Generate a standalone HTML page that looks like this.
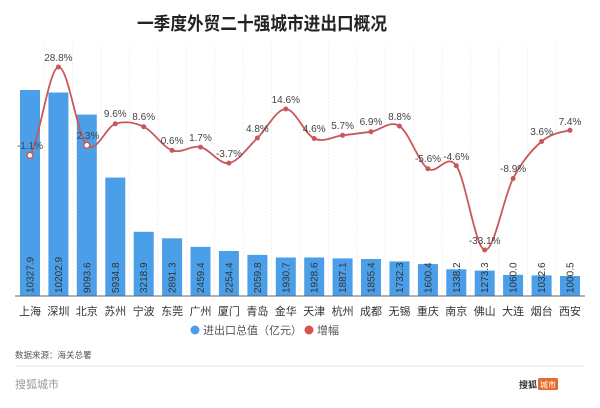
<!DOCTYPE html>
<html><head><meta charset="utf-8"><style>
html,body{margin:0;padding:0;background:#fff;}
svg{display:block;font-family:"Liberation Sans","Noto Sans CJK SC",sans-serif;}
</style></head><body>
<svg width="600" height="408" viewBox="0 0 600 408" xmlns="http://www.w3.org/2000/svg">
<rect width="600" height="408" fill="#fff"/>
<text x="262" y="30" text-anchor="middle" font-size="18" font-weight="bold" fill="#222" textLength="250" lengthAdjust="spacingAndGlyphs">一季度外贸二十强城市进出口概况</text>
<g stroke="#e4e4e4" stroke-width="0.7" stroke-dasharray="1.5,2">
<line x1="44.2" y1="45" x2="44.2" y2="296"/><line x1="72.6" y1="45" x2="72.6" y2="296"/><line x1="101" y1="45" x2="101" y2="296"/><line x1="129.5" y1="45" x2="129.5" y2="296"/><line x1="157.9" y1="45" x2="157.9" y2="296"/><line x1="186.3" y1="45" x2="186.3" y2="296"/><line x1="214.7" y1="45" x2="214.7" y2="296"/><line x1="243.1" y1="45" x2="243.1" y2="296"/><line x1="271.6" y1="45" x2="271.6" y2="296"/><line x1="300" y1="45" x2="300" y2="296"/><line x1="328.4" y1="45" x2="328.4" y2="296"/><line x1="356.8" y1="45" x2="356.8" y2="296"/><line x1="385.2" y1="45" x2="385.2" y2="296"/><line x1="413.7" y1="45" x2="413.7" y2="296"/><line x1="442.1" y1="45" x2="442.1" y2="296"/><line x1="470.5" y1="45" x2="470.5" y2="296"/><line x1="498.9" y1="45" x2="498.9" y2="296"/><line x1="527.3" y1="45" x2="527.3" y2="296"/><line x1="555.8" y1="45" x2="555.8" y2="296"/>
</g>
<g fill="#4a9fe8">
<rect x="20" y="90" width="20" height="206"/>
<rect x="48.4" y="92.5" width="20" height="203.5"/>
<rect x="76.8" y="114.6" width="20" height="181.4"/>
<rect x="105.3" y="177.6" width="20" height="118.4"/>
<rect x="133.7" y="231.8" width="20" height="64.2"/>
<rect x="162.1" y="238.3" width="20" height="57.7"/>
<rect x="190.5" y="246.9" width="20" height="49.1"/>
<rect x="218.9" y="251" width="20" height="45"/>
<rect x="247.4" y="254.9" width="20" height="41.1"/>
<rect x="275.8" y="257.5" width="20" height="38.5"/>
<rect x="304.2" y="257.5" width="20" height="38.5"/>
<rect x="332.6" y="258.4" width="20" height="37.6"/>
<rect x="361" y="259" width="20" height="37"/>
<rect x="389.5" y="261.4" width="20" height="34.6"/>
<rect x="417.9" y="264.1" width="20" height="31.9"/>
<rect x="446.3" y="269.3" width="20" height="26.7"/>
<rect x="474.7" y="270.6" width="20" height="25.4"/>
<rect x="503.1" y="274.9" width="20" height="21.1"/>
<rect x="531.6" y="275.4" width="20" height="20.6"/>
<rect x="560" y="276" width="20" height="20"/>
</g>
<line x1="15" y1="296" x2="585" y2="296" stroke="#666" stroke-width="1"/>
<g font-size="10" fill="#333">
<text transform="translate(33.5,293) rotate(-90)">10327.9</text>
<text transform="translate(61.9,293) rotate(-90)">10202.9</text>
<text transform="translate(90.3,293) rotate(-90)">9093.6</text>
<text transform="translate(118.8,293) rotate(-90)">5934.8</text>
<text transform="translate(147.2,293) rotate(-90)">3218.9</text>
<text transform="translate(175.6,293) rotate(-90)">2891.3</text>
<text transform="translate(204,293) rotate(-90)">2459.4</text>
<text transform="translate(232.4,293) rotate(-90)">2254.4</text>
<text transform="translate(260.9,293) rotate(-90)">2059.8</text>
<text transform="translate(289.3,293) rotate(-90)">1930.7</text>
<text transform="translate(317.7,293) rotate(-90)">1928.6</text>
<text transform="translate(346.1,293) rotate(-90)">1887.1</text>
<text transform="translate(374.5,293) rotate(-90)">1855.4</text>
<text transform="translate(403,293) rotate(-90)">1732.3</text>
<text transform="translate(431.4,293) rotate(-90)">1600.4</text>
<text transform="translate(459.8,293) rotate(-90)">1338.2</text>
<text transform="translate(488.2,293) rotate(-90)">1273.3</text>
<text transform="translate(516.6,293) rotate(-90)">1060.0</text>
<text transform="translate(545.1,293) rotate(-90)">1032.6</text>
<text transform="translate(573.5,293) rotate(-90)">1000.5</text>
</g>
<path fill="none" stroke="#c9585a" stroke-width="1.8" d="M30,155.4 C39.5,140.7 48.9,68.7 58.4,67 C67.9,65.3 77.3,135.8 86.8,145.3 C96.3,154.8 105.8,126.9 115.3,123.8 C124.8,120.7 134.2,122.3 143.7,126.7 C153.2,131.1 162.6,147 172.1,150.4 C181.6,153.8 191,145 200.5,147.1 C210,149.2 219.4,164.6 228.9,163.1 C238.4,161.6 247.9,147 257.4,138 C266.9,129 276.3,108.9 285.8,109 C295.3,109.1 304.7,134.1 314.2,138.5 C323.7,142.9 333.1,136.4 342.6,135.3 C352.1,134.2 361.5,133.2 371,131.7 C380.5,130.2 390,119.9 399.5,126.1 C409,132.3 418.4,162.1 427.9,168.7 C437.4,175.3 446.8,152.1 456.3,165.7 C465.8,179.3 475.2,247.9 484.7,250 C494.2,252.1 503.6,196.6 513.1,178.5 C522.6,160.4 532.1,149.5 541.6,141.5 C551.1,133.5 560.5,132.2 570,130.3"/>
<g fill="#c9585a">
<circle cx="30" cy="155.4" r="3" fill="#fff" stroke="#c9585a" stroke-width="1.5"/>
<circle cx="58.4" cy="67" r="2.5"/>
<circle cx="86.8" cy="145.3" r="3" fill="#fff" stroke="#c9585a" stroke-width="1.5"/>
<circle cx="115.3" cy="123.8" r="2.5"/><circle cx="143.7" cy="126.7" r="2.5"/><circle cx="172.1" cy="150.4" r="2.5"/><circle cx="200.5" cy="147.1" r="2.5"/><circle cx="228.9" cy="163.1" r="2.5"/><circle cx="257.4" cy="138" r="2.5"/><circle cx="285.8" cy="109" r="2.5"/><circle cx="314.2" cy="138.5" r="2.5"/><circle cx="342.6" cy="135.3" r="2.5"/><circle cx="371" cy="131.7" r="2.5"/><circle cx="399.5" cy="126.1" r="2.5"/><circle cx="427.9" cy="168.7" r="2.5"/><circle cx="456.3" cy="165.7" r="2.5"/><circle cx="484.7" cy="250" r="2.5"/><circle cx="513.1" cy="178.5" r="2.5"/><circle cx="541.6" cy="141.5" r="2.5"/><circle cx="570" cy="130.3" r="2.5"/>
</g>
<g font-size="10" fill="#444" text-anchor="middle">
<text x="30" y="149">-1.1%</text><text x="58.4" y="61">28.8%</text><text x="88" y="139">2.3%</text><text x="115.3" y="117">9.6%</text><text x="143.7" y="120">8.6%</text><text x="172.1" y="144">0.6%</text><text x="200.5" y="141">1.7%</text><text x="229" y="157">-3.7%</text><text x="257.4" y="132">4.8%</text><text x="285.8" y="103">14.6%</text><text x="314.2" y="132">4.6%</text><text x="342.6" y="129">5.7%</text><text x="371" y="125">6.9%</text><text x="399.5" y="120">8.8%</text><text x="428" y="162">-5.6%</text><text x="456.3" y="160">-4.6%</text><text x="484.7" y="244">-33.1%</text><text x="513.1" y="172">-8.9%</text><text x="541.6" y="135">3.6%</text><text x="570" y="125">7.4%</text>
</g>
<g font-size="11" fill="#333" text-anchor="middle">
<text x="30" y="315">上海</text><text x="58.4" y="315">深圳</text><text x="86.8" y="315">北京</text><text x="115.3" y="315">苏州</text><text x="143.7" y="315">宁波</text><text x="172.1" y="315">东莞</text><text x="200.5" y="315">广州</text><text x="228.9" y="315">厦门</text><text x="257.4" y="315">青岛</text><text x="285.8" y="315">金华</text><text x="314.2" y="315">天津</text><text x="342.6" y="315">杭州</text><text x="371" y="315">成都</text><text x="399.5" y="315">无锡</text><text x="427.9" y="315">重庆</text><text x="456.3" y="315">南京</text><text x="484.7" y="315">佛山</text><text x="513.1" y="315">大连</text><text x="541.6" y="315">烟台</text><text x="570" y="315">西安</text>
</g>
<circle cx="195" cy="330" r="4.5" fill="#4a9fe8"/>
<text x="203" y="334" font-size="11" fill="#555">进出口总值（亿元）</text>
<circle cx="309" cy="330" r="4.5" fill="#d9534f"/>
<text x="317" y="334" font-size="11" fill="#555">增幅</text>
<text x="15" y="358" font-size="8.5" fill="#555">数据来源：海关总署</text>
<line x1="15" y1="366" x2="585" y2="366" stroke="#e6e6e6" stroke-width="1"/>
<text x="15" y="388" font-size="11" fill="#999">搜狐城市</text>
<text x="537" y="388" font-size="9" font-weight="bold" fill="#333" text-anchor="end">搜狐</text>
<rect x="538" y="378" width="20" height="12" rx="1.5" fill="#e8692c"/>
<text x="548" y="387.5" font-size="8" fill="#fff" text-anchor="middle">城市</text>
</svg>
</body></html>
